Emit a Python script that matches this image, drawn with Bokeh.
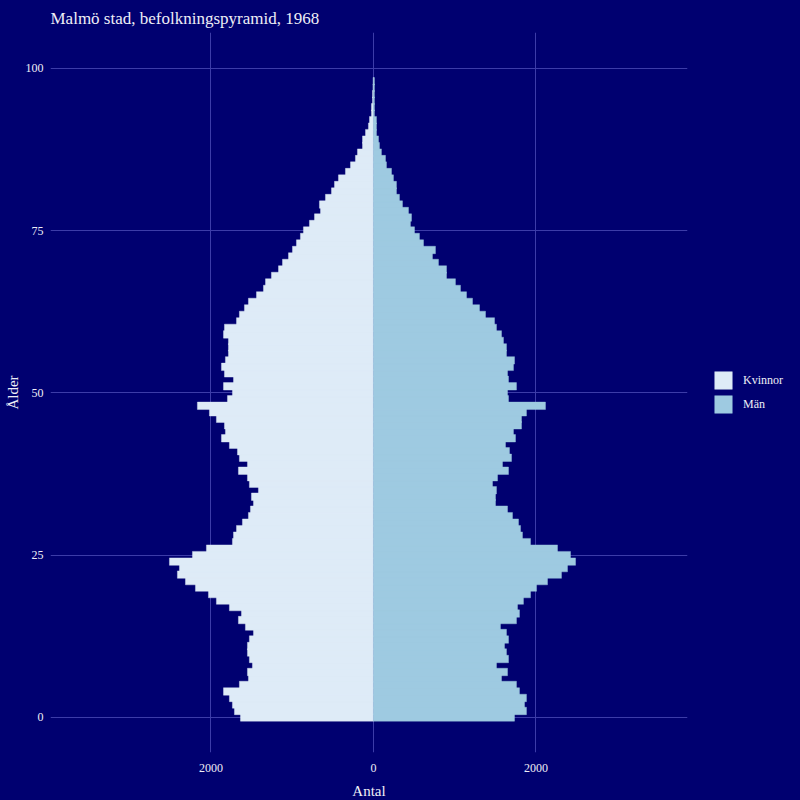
from bokeh.plotting import figure
from bokeh.models import ColumnDataSource, FixedTicker, Legend, LegendItem, Range1d
from bokeh.embed import file_html
from bokeh.resources import INLINE

ages = list(range(0, 99))
kvinnor = [1637, 1711, 1736, 1773, 1846, 1650, 1539, 1551, 1490, 1527,
           1551, 1551, 1527, 1477, 1576, 1662, 1625, 1773, 1933, 2031,
           2191, 2314, 2413, 2388, 2511, 2228, 2056, 1736, 1723, 1686,
           1613, 1539, 1514, 1477, 1502, 1416, 1527, 1551, 1662, 1551,
           1650, 1674, 1773, 1871, 1822, 1834, 1933, 2019, 2167, 1797,
           1736, 1846, 1723, 1834, 1871, 1822, 1785, 1785, 1785, 1846,
           1834, 1686, 1650, 1588, 1539, 1440, 1354, 1329, 1256, 1169,
           1120, 1046, 997, 948, 899, 862, 788, 726, 652, 665,
           591, 517, 480, 431, 345, 283, 222, 197, 135, 135,
           98, 62, 49, 25, 25, 12, 12, 6, 4]
man = [1736, 1883, 1859, 1883, 1797, 1760, 1576, 1650, 1514, 1662,
       1637, 1613, 1662, 1637, 1563, 1760, 1797, 1773, 1846, 1933,
       2007, 2142, 2314, 2388, 2487, 2425, 2265, 1933, 1834, 1810,
       1785, 1711, 1650, 1502, 1502, 1514, 1465, 1527, 1662, 1588,
       1699, 1674, 1625, 1748, 1723, 1822, 1822, 1883, 2117, 1662,
       1650, 1760, 1662, 1650, 1723, 1736, 1637, 1637, 1600, 1576,
       1514, 1490, 1379, 1305, 1219, 1145, 1071, 1009, 899, 899,
       800, 726, 763, 616, 566, 505, 455, 468, 431, 357,
       320, 283, 283, 246, 222, 160, 148, 98, 74, 62,
       37, 37, 37, 12, 12, 12, 12, 12, 12]

x_ticks = [-2000, 0, 2000]
x_tick_labels = {-2000: "2000", 0: "0", 2000: "2000"}
y_ticks = [0, 25, 50, 75, 100]

BG = "#000070"
GRID = "#3C3CA8"
TXT = "#EEEEF6"
FONT = "Liberation Serif"
C_K = "#DEEBF7"
C_M = "#9ECAE1"

src = ColumnDataSource(dict(
    age=ages,
    k_left=[-v for v in kvinnor],
    zero=[0] * len(ages),
    m_right=man,
))

p = figure(frame_width=637, frame_height=720,
           min_border_left=50, min_border_right=0,
           min_border_top=32, min_border_bottom=48,
           x_range=Range1d(-3975, 3865), y_range=Range1d(-5.4, 105.5),
           output_backend="svg", toolbar_location=None,
           title="Malmö stad, befolkningspyramid, 1968")

p.background_fill_color = BG
p.border_fill_color = BG
p.outline_line_color = None
p.styles = {"background-color": BG}

rk = p.hbar(y="age", left="k_left", right="zero", height=1.15, source=src,
            fill_color=C_K, line_color=C_K, line_width=0.4)
rm = p.hbar(y="age", left="zero", right="m_right", height=1.15, source=src,
            fill_color=C_M, line_color=C_M, line_width=0.4)

p.title.text_font = FONT
p.title.text_font_size = "17px"
p.title.text_font_style = "normal"
p.title.text_color = TXT

for ax in (p.xaxis[0], p.yaxis[0]):
    ax.axis_line_color = None
    ax.major_tick_line_color = None
    ax.minor_tick_line_color = None
    ax.major_tick_out = 0
    ax.major_tick_in = 0
    ax.minor_tick_out = 0
    ax.minor_tick_in = 0
    ax.major_label_text_font = FONT
    ax.major_label_text_font_size = "12px"
    ax.major_label_text_color = TXT
    ax.axis_label_text_font = FONT
    ax.axis_label_text_font_size = "15px"
    ax.axis_label_text_font_style = "normal"
    ax.axis_label_text_color = TXT

p.xaxis.ticker = FixedTicker(ticks=x_ticks)
p.xaxis.major_label_overrides = x_tick_labels
p.xaxis.axis_label = "Antal"
p.xaxis.major_label_standoff = 11
p.xaxis.axis_label_standoff = 8
p.yaxis.ticker = FixedTicker(ticks=y_ticks)
p.yaxis.axis_label = "Ålder"
p.yaxis.major_label_standoff = 7
p.yaxis.axis_label_standoff = 2

p.xgrid.ticker = FixedTicker(ticks=x_ticks)
p.ygrid.ticker = FixedTicker(ticks=y_ticks)
for g in (p.xgrid[0], p.ygrid[0]):
    g.grid_line_color = GRID
    g.grid_line_width = 1

legend = Legend(items=[LegendItem(label="Kvinnor", renderers=[rk]),
                       LegendItem(label="Män", renderers=[rm])],
                location="center_left", orientation="vertical",
                glyph_width=22, glyph_height=22, spacing=2,
                padding=0, margin=25, label_standoff=9,
                label_text_font=FONT, label_text_font_size="12px",
                label_text_color=TXT, label_width=40,
                background_fill_alpha=0, border_line_color=None)
p.add_layout(legend, "right")
p.min_border_right = 113

html = file_html(p, INLINE)
html = html.replace("<body>", '<body style="margin:0;background-color:%s;">' % BG, 1)
open("out.html", "w").write(html)
